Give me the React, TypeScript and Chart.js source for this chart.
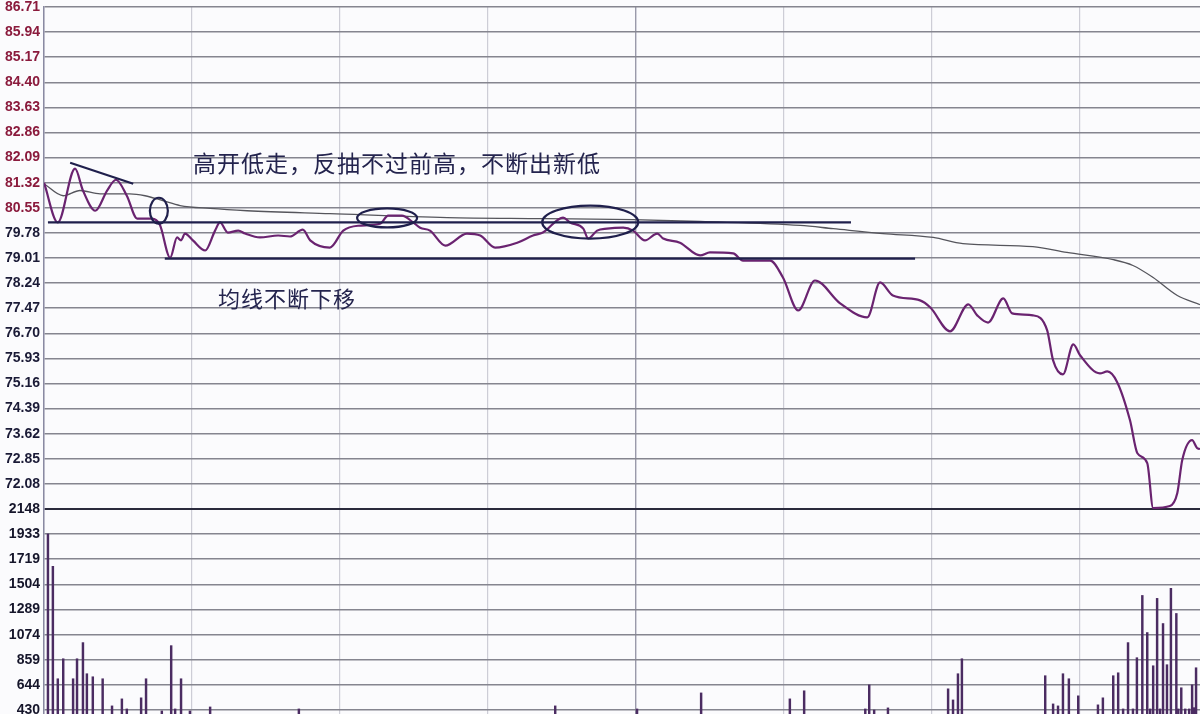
import React, { useEffect, useRef } from 'react';
import { Chart, registerables } from 'chart.js';

Chart.register(...registerables);

// ---- axis ticks ----
const priceTicks = [86.71, 85.94, 85.17, 84.4, 83.63, 82.86, 82.09, 81.32, 80.55, 79.78, 79.01, 78.24, 77.47, 76.7, 75.93, 75.16, 74.39, 73.62, 72.85, 72.08];
const volumeTicks = [2148, 1933, 1719, 1504, 1289, 1074, 859, 644, 430];
const timeGrid = [0, 30, 60, 90, 120, 150, 180, 210];

// ---- price line (minute, price) ----
const priceTimes = [0, 2.8, 6.3, 7.9, 10.4, 12.8, 14.6, 16.8, 18.9, 21.9, 23.5, 25.6, 27.0, 27.8, 28.6, 30.2, 32.7, 34.7, 35.7, 37.3, 39.4, 40.8, 43.8, 47.5, 49.9, 52.5, 54.0, 58.0, 60.7, 63.7, 68.2, 69.8, 72.6, 74.9, 76.3, 78.3, 81.4, 85.8, 88.5, 91.5, 96.0, 99.2, 101.2, 105.3, 106.7, 109.4, 110.4, 112.2, 114.2, 117.5, 119.5, 121.9, 124.4, 125.6, 129.0, 133.1, 135.1, 139.8, 141.8, 147.3, 149.9, 153.0, 156.4, 161.5, 167.0, 169.6, 172.2, 177.7, 179.8, 183.8, 187.5, 189.3, 191.5, 194.6, 196.4, 200.6, 203.5, 204.7, 206.7, 208.8, 210.2, 214.2, 215.7, 217.7, 220.3, 221.8, 223.8, 225.0, 228.4, 229.9, 230.9, 232.9, 233.9, 234.5];
const priceValues = [81.32, 80.10, 81.75, 81.08, 80.46, 81.08, 81.41, 80.92, 80.22, 80.22, 80.03, 79.02, 79.64, 79.55, 79.76, 79.55, 79.24, 79.85, 80.10, 79.79, 79.85, 79.76, 79.64, 79.70, 79.67, 79.88, 79.55, 79.33, 79.85, 80.00, 80.06, 80.31, 80.31, 80.10, 79.94, 79.85, 79.39, 79.76, 79.70, 79.33, 79.48, 79.70, 79.79, 80.25, 80.10, 79.91, 79.61, 79.85, 79.91, 79.94, 79.85, 79.55, 79.76, 79.61, 79.48, 79.09, 79.18, 79.15, 78.93, 78.93, 78.41, 77.40, 78.32, 77.62, 77.19, 78.26, 77.86, 77.71, 77.49, 76.76, 77.59, 77.25, 77.03, 77.77, 77.31, 77.25, 76.79, 75.87, 75.44, 76.36, 76.02, 75.47, 75.53, 75.20, 74.03, 73.02, 72.72, 71.34, 71.40, 71.80, 72.81, 73.42, 73.18, 73.15];

// ---- average line ----
const avgTimes = [0, 3.9, 7.3, 11.4, 17.4, 20.5, 24.1, 27.6, 33.7, 41.2, 58.0, 81.8, 101.2, 119.5, 133.1, 153.4, 160.1, 170.2, 180.4, 186.4, 200.6, 207.5, 216.9, 220.9, 225.0, 229.9, 234.5];
const avgValues = [81.29, 80.92, 81.08, 80.98, 80.98, 80.92, 80.77, 80.62, 80.53, 80.46, 80.37, 80.25, 80.22, 80.19, 80.13, 80.01, 79.91, 79.76, 79.64, 79.45, 79.36, 79.18, 78.96, 78.78, 78.41, 77.86, 77.58];

// ---- volume bars ----
const volTimes = [0.8, 1.8, 2.8, 3.9, 5.9, 6.7, 7.9, 8.7, 9.9, 11.9, 13.8, 15.8, 16.8, 19.7, 20.7, 23.9, 25.8, 26.6, 27.8, 29.6, 33.7, 51.7, 103.7, 120.3, 133.3, 151.3, 154.2, 166.6, 167.4, 168.4, 171.2, 183.4, 184.4, 185.4, 186.2, 203.1, 204.7, 205.7, 206.7, 207.9, 209.8, 213.8, 214.8, 216.9, 217.9, 218.9, 219.9, 220.9, 221.7, 222.8, 223.8, 224.4, 225.0, 225.8, 226.4, 227.0, 227.8, 228.6, 229.7, 230.1, 230.7, 231.5, 232.3, 232.9, 233.3, 233.7];
const volValues = [1935, 1658, 697, 868, 697, 868, 1006, 740, 714, 697, 465, 525, 439, 534, 697, 422, 980, 439, 697, 422, 456, 439, 465, 439, 576, 525, 594, 439, 645, 430, 448, 611, 516, 740, 868, 723, 482, 465, 740, 697, 551, 474, 534, 723, 748, 439, 1006, 439, 877, 1409, 1092, 439, 808, 1384, 439, 1169, 817, 1470, 1255, 439, 620, 439, 439, 645, 450, 791];

const note1 = '高开低走，反抽不过前高，不断出新低';
const note2 = '均线不断下移';

const notesPlugin = {
  id: 'notes',
  beforeDraw(chart: any) {
    const { ctx } = chart;
    ctx.save();
    ctx.fillStyle = '#fbfbfd';
    ctx.fillRect(0, 0, chart.width, chart.height);
    ctx.restore();
  },
  afterDatasetsDraw(chart: any) {
    const { ctx } = chart;
    const xs = chart.scales.x;
    const ys = chart.scales.price;
    const px = (m: number) => xs.getPixelForValue(m);
    const py = (p: number) => ys.getPixelForValue(p);
    ctx.save();
    ctx.strokeStyle = '#1f1f4c';
    ctx.lineWidth = 2.2;
    const segs: number[][] = [
      [5.3, 81.93, 18.1, 81.29],
      [0.8, 80.10, 163.7, 80.10],
      [24.5, 78.99, 176.7, 78.99],
    ];
    for (const s of segs) {
      ctx.beginPath();
      ctx.moveTo(px(s[0]), py(s[1]));
      ctx.lineTo(px(s[2]), py(s[3]));
      ctx.stroke();
    }
    const ells = [
      { m: 23.3, p: 80.46, rx: 9, ry: 13 },
      { m: 69.6, p: 80.24, rx: 30, ry: 9.5 },
      { m: 110.8, p: 80.11, rx: 48, ry: 16.5 },
    ];
    for (const e of ells) {
      ctx.beginPath();
      ctx.ellipse(px(e.m), py(e.p), e.rx, e.ry, 0, 0, Math.PI * 2);
      ctx.stroke();
    }
    ctx.fillStyle = '#24244e';
    ctx.textAlign = 'left';
    ctx.textBaseline = 'middle';
    ctx.font = '23px "Noto Sans CJK SC"';
    (ctx as any).letterSpacing = '1px';
    ctx.fillText(note1, px(30.2), py(81.93));
    ctx.font = '22px "Noto Sans CJK SC"';
    ctx.fillText(note2, px(35.3), py(77.77));
    ctx.restore();
  },
};

const noPad = (s: any) => {
  s.width = 44;
  s.paddingTop = 0;
  s.paddingBottom = 0;
};

export default function App() {
  const ref = useRef<HTMLCanvasElement | null>(null);

  useEffect(() => {
    if (!ref.current) return;
    const chart = new Chart(ref.current, {
      type: 'line',
      data: {
        datasets: [
          {
            type: 'line',
            label: 'price',
            data: priceTimes.map((t, i) => ({ x: t, y: priceValues[i] })),
            xAxisID: 'x',
            yAxisID: 'price',
            borderColor: '#6a2370',
            borderWidth: 2.2,
            pointRadius: 0,
            cubicInterpolationMode: 'monotone',
            order: 1,
          },
          {
            type: 'line',
            label: 'avg',
            data: avgTimes.map((t, i) => ({ x: t, y: avgValues[i] })),
            xAxisID: 'x',
            yAxisID: 'price',
            borderColor: '#55555c',
            borderWidth: 1.3,
            pointRadius: 0,
            cubicInterpolationMode: 'monotone',
            order: 2,
          },
          {
            type: 'bar',
            label: 'vol',
            data: volTimes.map((t, i) => ({ x: t, y: volValues[i] })),
            xAxisID: 'x',
            yAxisID: 'vol',
            backgroundColor: '#4b2c62',
            barThickness: 1.8,
            grouped: false,
            order: 3,
          } as any,
        ],
      },
      options: {
        responsive: false,
        animation: false,
        devicePixelRatio: 1,
        layout: { padding: { top: 7, left: 0, right: 0, bottom: 0 } },
        plugins: { legend: { display: false }, tooltip: { enabled: false }, title: { display: false } },
        scales: {
          x: {
            type: 'linear',
            min: 0,
            max: 234.5,
            offset: false,
            afterBuildTicks: (s: any) => { s.ticks = timeGrid.map((v) => ({ value: v })); },
            afterFit: (s: any) => { s.height = 0; s.paddingLeft = 0; s.paddingRight = 0; },
            ticks: { display: false },
            border: { display: false },
            grid: {
              offset: false,
              drawTicks: false,
              color: (c: any) => (c.tick && c.tick.value === 120 ? '#9a9aaa' : '#cdcdd6'),
              lineWidth: (c: any) => (c.tick && c.tick.value === 120 ? 1.4 : 1.2),
            },
          },
          vol: {
            type: 'linear',
            position: 'left',
            stack: 'panels',
            stackWeight: 205,
            weight: 0,
            min: 395.8,
            max: 2148,
            afterBuildTicks: (s: any) => { s.ticks = volumeTicks.map((v) => ({ value: v })); },
            afterFit: noPad,
            ticks: {
              autoSkip: false,
              padding: 4,
              color: '#15152a',
              font: { family: 'Liberation Sans', size: 14, weight: 'bold' },
              callback: (v: any) => String(v),
            },
            border: { display: true, color: '#8a8aa2', width: 1.5 },
            grid: {
              drawTicks: false,
              color: (c: any) => (c.tick && c.tick.value === 2148 ? '#2a2a3c' : '#85858f'),
              lineWidth: (c: any) => (c.tick && c.tick.value === 2148 ? 2 : 1.5),
            },
          },
          price: {
            type: 'linear',
            position: 'left',
            stack: 'panels',
            stackWeight: 502,
            weight: 1,
            min: 71.31,
            max: 86.71,
            afterBuildTicks: (s: any) => { s.ticks = priceTicks.map((v) => ({ value: v })); },
            afterFit: noPad,
            ticks: {
              autoSkip: false,
              padding: 4,
              color: (c: any) => (c.tick && c.tick.value >= 80.5 ? '#8a1a3c' : '#1a1a36'),
              font: { family: 'Liberation Sans', size: 14, weight: 'bold' },
              callback: (v: any) => Number(v).toFixed(2),
            },
            border: { display: true, color: '#8a8aa2', width: 1.5 },
            grid: {
              drawTicks: false,
              color: '#85858f',
              lineWidth: 1.5,
            },
          },
        } as any,
      },
      plugins: [notesPlugin],
    } as any);
    return () => chart.destroy();
  }, []);

  return (
    <div style={{ position: 'fixed', left: 0, top: 0, width: 1200, height: 714, background: '#fbfbfd' }}>
      <canvas ref={ref} width={1200} height={714} style={{ display: 'block', width: 1200, height: 714 }} />
    </div>
  );
}
